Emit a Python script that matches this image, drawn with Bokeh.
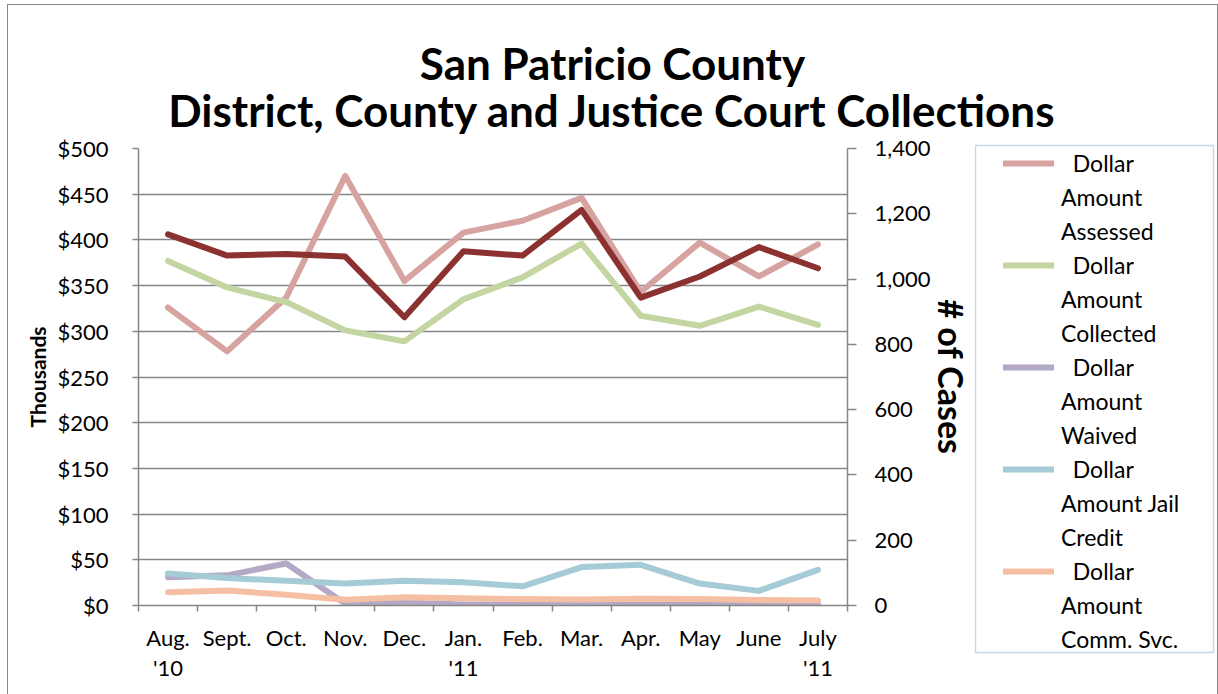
from bokeh.plotting import figure
from bokeh.layouts import column, row
from bokeh.models import (Range1d, LinearAxis, FixedTicker, NumeralTickFormatter,
                          Legend, LegendItem, Label, BoxAnnotation)
from bokeh.embed import file_html
from bokeh.resources import INLINE

months = ["Aug.\n'10", "Sept.", "Oct.", "Nov.", "Dec.", "Jan.\n'11", "Feb.", "Mar.",
          "Apr.", "May", "June", "July\n'11"]
assessed = [326, 278, 337, 470, 355, 408, 421, 446, 343, 397, 360, 395]
collected = [377, 348, 332, 301, 289, 335, 359, 396, 317, 306, 327, 307]
waived = [31, 33, 46, 2, 3, 1, 1, 2, 1, 1, 3, 1]
jail_credit = [35, 30, 27, 24, 27, 25.5, 21, 42, 44.5, 24, 16, 39]
comm_svc = [14.6, 16.4, 11.7, 6.2, 9, 8, 7, 6.5, 7.5, 7, 6, 5.5]
cases = [1137, 1072, 1077, 1069, 883, 1085, 1072, 1212, 943, 1008, 1098, 1033]

series_names = [["Dollar", "Amount", "Assessed"], ["Dollar", "Amount", "Collected"],
                ["Dollar", "Amount", "Waived"], ["Dollar", "Amount Jail", "Credit"],
                ["Dollar", "Amount", "Comm. Svc."]]
series_colors = ["#D6A3A1", "#C3D6A2", "#B3A9C7", "#A5CBD7", "#F5BFA3"]
cases_color = "#8B3130"
title_lines = ["San Patricio County", "District, County and Justice Court Collections"]

left_ticks = list(range(0, 501, 50))
right_ticks = list(range(0, 1401, 200))

FONT = "Lato"
GRAY = "#868686"
NAN = float("nan")
x = list(range(len(months)))

# ---------------- title strip ----------------
tf = figure(width=1209, height=129, output_backend="svg", toolbar_location=None, title=None,
            x_range=Range1d(0, 1209), y_range=Range1d(0, 129),
            x_axis_type=None, y_axis_type=None, frame_align=False,
            min_border_left=0, min_border_right=0, min_border_top=0, min_border_bottom=0)
tf.outline_line_color = None
tf.grid.visible = False
for txt, yy in zip(title_lines, [72, 25]):
    tf.add_layout(Label(x=604, y=yy, x_units="screen", y_units="screen", text=txt,
                        text_align="center", text_baseline="middle",
                        text_font=FONT, text_font_style="bold", text_font_size="44px",
                        text_color="black"))

# ---------------- main chart ----------------
p = figure(width=966, height=560, output_backend="svg", toolbar_location=None, title=None,
           x_range=Range1d(-0.5, len(months) - 0.5), y_range=Range1d(0, 500),
           frame_align=False,
           min_border_left=130, min_border_top=14, min_border_bottom=89,
           min_border_right=121)
p.outline_line_color = None
p.extra_y_ranges = {"cases": Range1d(0, 1400)}

p.xgrid.visible = False
p.ygrid.ticker = FixedTicker(ticks=left_ticks)
p.ygrid.grid_line_color = GRAY
p.ygrid.grid_line_width = 1.5

xa = p.xaxis[0]
xa.ticker = FixedTicker(ticks=x, minor_ticks=[i - 0.5 for i in range(len(months) + 1)])
xa.major_label_overrides = {i: m for i, m in enumerate(months)}
xa.major_tick_out = 0
xa.major_tick_in = 0
xa.minor_tick_out = 6
xa.minor_tick_in = 0
xa.minor_tick_line_color = GRAY
xa.minor_tick_line_width = 1.5
xa.axis_line_color = GRAY
xa.axis_line_width = 1.5
xa.major_label_standoff = 12
xa.major_label_text_font = FONT
xa.major_label_text_font_size = "22px"
xa.major_label_text_line_height = 1.12
xa.major_label_text_color = "black"

ya = p.yaxis[0]
ya.ticker = FixedTicker(ticks=left_ticks)
ya.formatter = NumeralTickFormatter(format="$0")
ya.minor_tick_line_color = None
ya.major_tick_out = 6
ya.major_tick_in = 0
ya.major_tick_line_color = GRAY
ya.major_tick_line_width = 1.5
ya.axis_line_color = GRAY
ya.axis_line_width = 1.5
ya.major_label_standoff = 24
ya.major_label_text_font = FONT
ya.major_label_text_font_size = "22px"
ya.major_label_text_color = "black"
ya.axis_label = "Thousands"
ya.axis_label_text_font = FONT
ya.axis_label_text_font_style = "bold"
ya.axis_label_text_font_size = "21px"
ya.axis_label_text_color = "black"
ya.axis_label_standoff = 4

ra = LinearAxis(y_range_name="cases", ticker=FixedTicker(ticks=right_ticks),
                formatter=NumeralTickFormatter(format="0,0"))
ra.minor_tick_line_color = None
ra.major_tick_out = 9
ra.major_tick_in = 0
ra.major_tick_line_color = GRAY
ra.major_tick_line_width = 1.5
ra.axis_line_color = GRAY
ra.axis_line_width = 1.5
ra.major_label_standoff = 18
ra.major_label_text_font = FONT
ra.major_label_text_font_size = "22px"
ra.major_label_text_color = "black"
ra.axis_label = "# of Cases"
ra.axis_label_text_font = FONT
ra.axis_label_text_font_style = "bold"
ra.axis_label_text_font_size = "34px"
ra.axis_label_text_color = "black"
ra.axis_label_standoff = -3
p.add_layout(ra, "right")

W = 6
for vals, col in zip([assessed, collected, waived, jail_credit, comm_svc], series_colors):
    p.line(x, vals, line_color=col, line_width=W, line_cap="round", line_join="round")
p.line(x, cases, line_color=cases_color, line_width=W, line_cap="round", line_join="round",
       y_range_name="cases")

# ---------------- legend panel ----------------
lf = figure(width=243, height=560, output_backend="svg", toolbar_location=None, title=None,
            x_range=Range1d(0, 243), y_range=Range1d(0, 560),
            x_axis_type=None, y_axis_type=None, frame_align=False,
            min_border_left=0, min_border_right=0, min_border_top=0, min_border_bottom=0)
lf.outline_line_color = None
lf.grid.visible = False
lf.add_layout(BoxAnnotation(left=1, right=239, bottom=42, top=549, fill_color="white",
                            fill_alpha=1, line_color="#4A7EBB", line_width=1.5,
                            level="underlay"))
blank = lf.line([NAN], [NAN], line_alpha=0)
items = []
for names, col in zip(series_names, series_colors):
    r = lf.line([NAN], [NAN], line_color=col, line_width=W, line_cap="round")
    items.append(LegendItem(label="\u00a0\u00a0" + names[0], renderers=[r]))
    for extra in names[1:]:
        items.append(LegendItem(label=extra, renderers=[blank]))
legend = Legend(items=items, location=(29, 41))
legend.border_line_color = None
legend.background_fill_alpha = 0
legend.label_text_font = FONT
legend.label_text_font_size = "23px"
legend.label_text_color = "black"
legend.glyph_width = 51
legend.glyph_height = 28
legend.label_height = 28
legend.label_standoff = 7
legend.padding = 0
legend.spacing = 6
legend.margin = 0
lf.add_layout(legend)

layout = column(tf, row(p, lf),
                styles={"margin-left": "7px", "margin-top": "4px",
                        "border-left": "1px solid #868686", "border-top": "1px solid #868686",
                        "border-right": "1px solid #868686"})

open("out.html", "w").write(file_html(layout, INLINE))
